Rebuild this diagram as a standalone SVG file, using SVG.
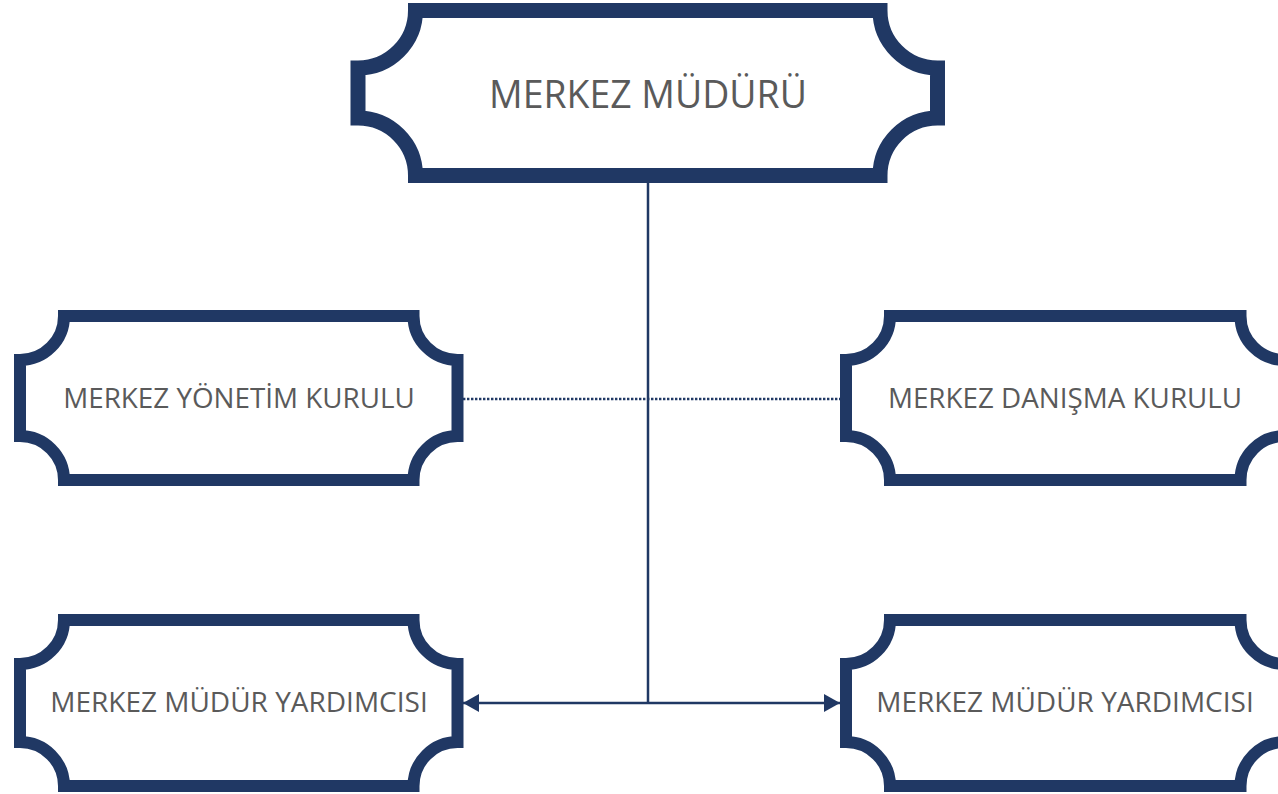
<svg xmlns="http://www.w3.org/2000/svg" width="1278" height="794" viewBox="0 0 1278 794">
<style>
.box{fill:#ffffff;stroke:#203864;stroke-linejoin:miter}
.big{stroke-width:15}
.sm{stroke-width:12}
.lbl{font-family:"Open Sans","Noto Sans","DejaVu Sans",sans-serif;fill:#5a5a5a;text-anchor:middle}
.conn{stroke:#203864;fill:none}
</style>
<defs>
<marker id="arr" viewBox="0 0 16 18" refX="16" refY="9" markerWidth="16" markerHeight="18" markerUnits="userSpaceOnUse" orient="auto-start-reverse">
<path d="M0,0 L16,9 L0,18 Z" fill="#203864"/>
</marker>
</defs>
<rect width="1278" height="794" fill="#ffffff"/>
<g id="connectors">
<line class="conn" x1="648" y1="183" x2="648" y2="703" stroke-width="2.5"/>
<line class="conn" x1="463" y1="703" x2="840" y2="703" stroke-width="2.5" marker-start="url(#arr)" marker-end="url(#arr)"/>
<line class="conn" x1="463" y1="399" x2="840" y2="399" stroke-width="2.4" stroke-dasharray="2.4 1.6"/>
</g>
<g id="merkez-muduru">
<path class="box big" d="M415.5,10.5 H880 A57.5,57.5 0 0 0 937.5,68 V118 A57.5,57.5 0 0 0 880,175.5 H415.5 A57.5,57.5 0 0 0 358,118 V68 A57.5,57.5 0 0 0 415.5,10.5 Z"/>
<text class="lbl" x="648" y="108" font-size="37.4">MERKEZ MÜDÜRÜ</text>
</g>
<g id="yonetim-kurulu">
<path class="box sm" d="M64,316 H413.5 A44,44 0 0 0 457.5,360 V436 A44,44 0 0 0 413.5,480 H64 A44,44 0 0 0 20,436 V360 A44,44 0 0 0 64,316 Z"/>
<text class="lbl" x="239" y="408" font-size="27.8">MERKEZ YÖNETİM KURULU</text>
</g>
<g id="danisma-kurulu">
<path class="box sm" d="M890,316 H1240.5 A44,44 0 0 0 1284.5,360 V436 A44,44 0 0 0 1240.5,480 H890 A44,44 0 0 0 846,436 V360 A44,44 0 0 0 890,316 Z"/>
<text class="lbl" x="1065" y="408" font-size="27.8">MERKEZ DANIŞMA KURULU</text>
</g>
<g id="mudur-yardimcisi-1">
<path class="box sm" d="M64,620 H413.5 A44,44 0 0 0 457.5,664 V742 A44,44 0 0 0 413.5,786 H64 A44,44 0 0 0 20,742 V664 A44,44 0 0 0 64,620 Z"/>
<text class="lbl" x="239" y="712" font-size="28">MERKEZ MÜDÜR YARDIMCISI</text>
</g>
<g id="mudur-yardimcisi-2">
<path class="box sm" d="M890,620 H1240.5 A44,44 0 0 0 1284.5,664 V742 A44,44 0 0 0 1240.5,786 H890 A44,44 0 0 0 846,742 V664 A44,44 0 0 0 890,620 Z"/>
<text class="lbl" x="1065" y="712" font-size="28">MERKEZ MÜDÜR YARDIMCISI</text>
</g>
</svg>
